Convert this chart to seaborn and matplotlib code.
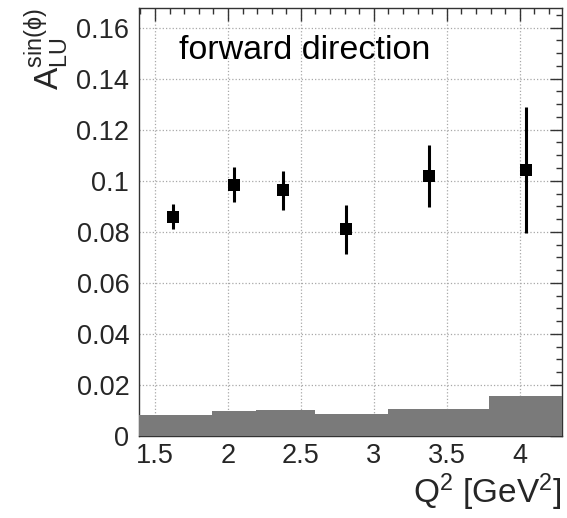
import numpy as np
import pandas as pd
import matplotlib
matplotlib.use("Agg")
import matplotlib.pyplot as plt
import seaborn as sns
from matplotlib.ticker import MultipleLocator

# ---- data ----
q2 = [1.625, 2.04, 2.377, 2.812, 3.375, 4.045]
alu = [0.086, 0.0985, 0.0962, 0.081, 0.1018, 0.1043]
alu_err = [0.0048, 0.0070, 0.0077, 0.0095, 0.0122, 0.0247]
syst_edges = [1.39, 1.89, 2.19, 2.60, 3.10, 3.79, 4.29]
syst_vals = [0.0084, 0.0097, 0.0100, 0.0085, 0.0107, 0.0156]
x_ticks = [1.5, 2, 2.5, 3, 3.5, 4]
x_ticklabels = ["1.5", "2", "2.5", "3", "3.5", "4"]
y_ticks = [0, 0.02, 0.04, 0.06, 0.08, 0.1, 0.12, 0.14, 0.16]
y_ticklabels = ["0", "0.02", "0.04", "0.06", "0.08", "0.1", "0.12", "0.14", "0.16"]

sns.set_theme(style="white")
plt.rcParams["font.family"] = ["Liberation Sans", "DejaVu Sans"]
plt.rcParams["mathtext.fontset"] = "custom"
plt.rcParams["mathtext.rm"] = "Liberation Sans"
plt.rcParams["mathtext.it"] = "Liberation Sans"
plt.rcParams["mathtext.bf"] = "Liberation Sans:bold"

fig = plt.figure(figsize=(5.67, 5.18), dpi=100)
ax = fig.add_axes([139/567, 82/518, 423/567, 428/518])

# systematic band
centers = [(a + b) / 2 for a, b in zip(syst_edges[:-1], syst_edges[1:])]
sdf = pd.DataFrame({"x": centers, "w": syst_vals})
sns.histplot(data=sdf, x="x", weights="w", bins=syst_edges, stat="count",
             color="#7a7a7a", alpha=1.0, linewidth=0, ax=ax, zorder=3)

# points
df = pd.DataFrame({"q2": q2, "alu": alu, "err": alu_err})
ax.errorbar(df["q2"], df["alu"], yerr=df["err"], fmt="none", ecolor="black",
            elinewidth=2.2, capsize=0, zorder=4)
sns.scatterplot(data=df, x="q2", y="alu", marker="s", s=75, color="black",
                edgecolor="black", linewidth=0, ax=ax, zorder=5)

ax.set_xlim(1.39, 4.29)
ax.set_ylim(0, 0.1677)
ax.set_xticks(x_ticks)
ax.set_xticklabels(x_ticklabels)
ax.set_yticks(y_ticks)
ax.set_yticklabels(y_ticklabels)
ax.xaxis.set_minor_locator(MultipleLocator(0.1))
ax.yaxis.set_minor_locator(MultipleLocator(0.005))

ax.grid(True, which="major", color="#a8a8a8", linestyle=":", linewidth=0.9, zorder=0)
ax.set_axisbelow(True)

ax.tick_params(which="both", direction="in", top=True, right=True,
               color="#333333", labelsize=19.5)
ax.tick_params(which="major", length=9, width=1)
ax.tick_params(which="minor", length=4.5, width=1)
ax.tick_params(axis="y", pad=7)
ax.tick_params(axis="x", pad=5)
for s in ax.spines.values():
    s.set_color("#333333")
    s.set_linewidth(1)

ax.set_xlabel(r"Q$^{2}$ [GeV$^{2}$]", fontsize=24, loc="right", labelpad=2)
ax.set_ylabel(r"$\mathrm{A}_{LU}^{\sin(\phi)}$", fontsize=24, loc="top", labelpad=4)

ax.text(0.095, 0.9, "forward direction", transform=ax.transAxes,
        fontsize=24.5, ha="left", va="center", color="black")

fig.savefig("out.png", dpi=100)
